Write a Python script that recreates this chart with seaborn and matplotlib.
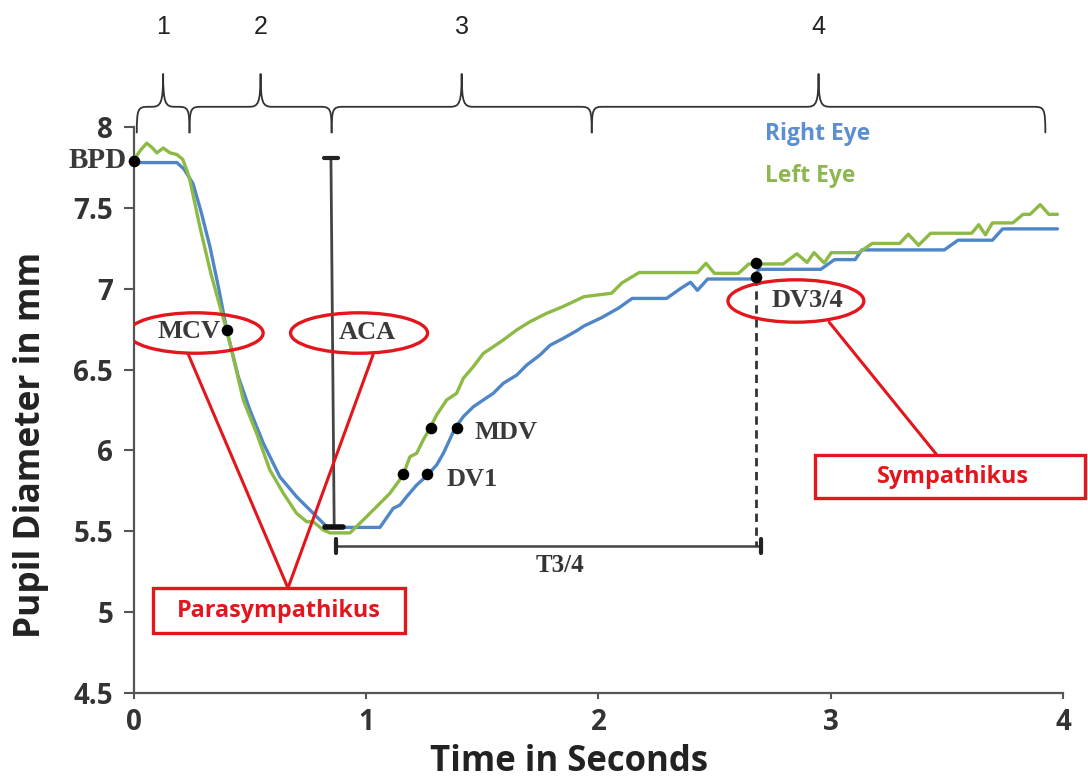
import matplotlib
matplotlib.use("Agg")
import matplotlib.pyplot as plt
from matplotlib.path import Path
from matplotlib.patches import PathPatch, Ellipse, Rectangle
import seaborn as sns
import pandas as pd

# ---------------- data ----------------
right_t = [0.000, 0.185, 0.215, 0.254, 0.290, 0.327, 0.365, 0.399, 0.449, 0.499,
           0.557, 0.628, 0.700, 0.772, 0.830, 0.900, 1.000, 1.059, 1.116, 1.145,
           1.174, 1.217, 1.260, 1.303, 1.332, 1.382, 1.418, 1.461, 1.504, 1.547,
           1.590, 1.648, 1.691, 1.748, 1.791, 1.848, 1.906, 1.938, 2.012, 2.086,
           2.145, 2.293, 2.352, 2.396, 2.426, 2.470, 2.662, 2.691, 2.957, 3.016,
           3.105, 3.134, 3.489, 3.548, 3.696, 3.740, 3.976]
right_mm = [7.78, 7.78, 7.74, 7.65, 7.47, 7.26, 7.00, 6.745, 6.456, 6.250,
            6.044, 5.837, 5.714, 5.611, 5.528, 5.524, 5.524, 5.524, 5.642, 5.662,
            5.714, 5.786, 5.842, 5.910, 5.982, 6.137, 6.209, 6.270, 6.312, 6.353,
            6.415, 6.466, 6.528, 6.590, 6.650, 6.693, 6.740, 6.770, 6.820, 6.880,
            6.940, 6.940, 7.000, 7.040, 6.990, 7.060, 7.060, 7.120, 7.120, 7.180,
            7.180, 7.240, 7.240, 7.300, 7.300, 7.370, 7.370]

left_t = [0.000, 0.030, 0.055, 0.080, 0.098, 0.126, 0.155, 0.184, 0.210, 0.228,
          0.241, 0.284, 0.330, 0.370, 0.400, 0.440, 0.471, 0.528, 0.585, 0.643,
          0.700, 0.744, 0.772, 0.815, 0.844, 0.930, 0.987, 1.059, 1.102, 1.159,
          1.188, 1.217, 1.245, 1.274, 1.303, 1.346, 1.389, 1.418, 1.461, 1.504,
          1.547, 1.590, 1.648, 1.705, 1.777, 1.848, 1.938, 2.056, 2.101, 2.175,
          2.426, 2.463, 2.499, 2.603, 2.647, 2.795, 2.854, 2.898, 2.928, 2.972,
          3.002, 3.120, 3.179, 3.297, 3.334, 3.378, 3.430, 3.607, 3.637, 3.666,
          3.696, 3.784, 3.828, 3.858, 3.902, 3.939, 3.976]
left_mm = [7.80, 7.86, 7.90, 7.87, 7.84, 7.87, 7.84, 7.83, 7.80, 7.73,
           7.67, 7.38, 7.10, 6.89, 6.74, 6.50, 6.31, 6.106, 5.879, 5.735,
           5.611, 5.559, 5.559, 5.508, 5.490, 5.490, 5.570, 5.673, 5.735, 5.848,
           5.961, 5.982, 6.064, 6.137, 6.219, 6.312, 6.353, 6.446, 6.518, 6.600,
           6.641, 6.683, 6.745, 6.796, 6.848, 6.890, 6.951, 6.972, 7.036, 7.100,
           7.100, 7.157, 7.095, 7.095, 7.153, 7.153, 7.216, 7.163, 7.223, 7.159,
           7.223, 7.223, 7.280, 7.280, 7.337, 7.269, 7.343, 7.343, 7.396, 7.333,
           7.407, 7.407, 7.460, 7.460, 7.520, 7.460, 7.460]

# marked points
point_names = ["BPD", "MCV", "DV1", "DV1", "MDV", "MDV", "DV3/4", "DV3/4"]
point_t = [0.000, 0.399, 1.157, 1.260, 1.278, 1.389, 2.680, 2.680]
point_mm = [7.79, 6.745, 5.854, 5.854, 6.137, 6.137, 7.157, 7.070]

# phases (braces above the plot)
phase_labels = ["1", "2", "3", "4"]
phase_start = [0.012, 0.239, 0.851, 1.971]
phase_end = [0.239, 0.851, 1.971, 3.924]

# timing markers
aca_t = [0.848, 0.862]
aca_mm = [7.81, 5.525]
t34_start, t34_end, t34_level = 0.870, 2.680, 5.41

x_ticks = [0, 1, 2, 3, 4]
y_ticks = [4.5, 5, 5.5, 6, 6.5, 7, 7.5, 8]
y_ticklabels = ["4.5", "5", "5.5", "6", "6.5", "7", "7.5", "8"]

BLUE = "#4f86c8"
GREEN = "#8cba45"
RED = "#e3161d"
DARK = "#333333"
SERIF = "Liberation Serif"
SANS = "Open Sans"

# ---------------- figure ----------------
sns.set_style("white")
plt.rcParams["font.family"] = [SANS, "DejaVu Sans"]

fig = plt.figure(figsize=(10.88, 7.78), dpi=100)
ax = fig.add_axes([0.12316, 0.10925, 0.85386, 0.72751])

right_df = pd.DataFrame({"t": right_t, "mm": right_mm})
left_df = pd.DataFrame({"t": left_t, "mm": left_mm})
sns.lineplot(data=right_df, x="t", y="mm", ax=ax, color=BLUE, linewidth=2.4,
             estimator=None, sort=False, zorder=3)
sns.lineplot(data=left_df, x="t", y="mm", ax=ax, color=GREEN, linewidth=2.4,
             estimator=None, sort=False, zorder=3)

ax.set_xlim(0, 4)
ax.set_ylim(4.5, 8)
ax.set_xticks(x_ticks)
ax.set_xticklabels([str(v) for v in x_ticks])
ax.set_yticks(y_ticks)
ax.set_yticklabels(y_ticklabels)
for lab in ax.get_xticklabels() + ax.get_yticklabels():
    lab.set_fontweight("bold")
    lab.set_color(DARK)
ax.tick_params(axis="y", direction="out", length=7, width=1.5, color="#555555",
               labelsize=20, pad=8, left=True)
ax.tick_params(axis="x", direction="out", length=4.5, width=1.5, color="#555555",
               labelsize=20, pad=6, bottom=True)
for side in ["top", "right"]:
    ax.spines[side].set_visible(False)
for side in ["left", "bottom"]:
    ax.spines[side].set_color("#555555")
    ax.spines[side].set_linewidth(1.6)

ax.set_xlabel("Time in Seconds", fontsize=25, fontweight="bold", color="#222222")
ax.set_ylabel("Pupil Diameter in mm", fontsize=25.5, fontweight="bold", color="#222222")
ax.xaxis.set_label_coords(0.468, -0.090)
ax.yaxis.set_label_coords(-0.092, 0.438)

# ---------------- ACA and T3/4 markers ----------------
ax.plot(aca_t, aca_mm, color="#444444", lw=2.0, zorder=4, solid_capstyle="butt")
ax.plot([aca_t[0] - 0.032, aca_t[0] + 0.032], [aca_mm[0], aca_mm[0]],
        color="#222222", lw=3.0, zorder=4, solid_capstyle="round")
ax.plot([aca_t[1] - 0.04, aca_t[1] + 0.04], [aca_mm[1], aca_mm[1]],
        color="#111111", lw=4.0, zorder=5, solid_capstyle="round")

ax.plot([t34_start, t34_end + 0.02], [t34_level, t34_level], color="#444444",
        lw=1.8, zorder=4)
for xx in [t34_start, t34_end + 0.02]:
    ax.plot([xx, xx], [t34_level - 0.045, t34_level + 0.045], color="#222222",
            lw=3.0, zorder=4, solid_capstyle="round")
ax.plot([point_t[-1], point_t[-1]], [point_mm[-1], t34_level], color="#333333",
        lw=2.0, ls=(0, (3, 2)), zorder=4)
ax.text((t34_start + t34_end) / 2 + 0.06, 5.29, "T3/4", family=SERIF,
        fontweight="bold", fontsize=18, color="#333333", ha="center", va="center")

# ---------------- dots ----------------
sns.scatterplot(x=point_t, y=point_mm, ax=ax, color="black", s=70, zorder=6,
                edgecolor="black", linewidth=0, clip_on=False, legend=False)

# ---------------- ellipses + labels ----------------
ellipses = [(0.265, 6.726, 0.582, 0.250), (0.969, 6.726, 0.590, 0.250),
            (2.850, 6.924, 0.585, 0.262)]
for (cx, cy, w, h) in ellipses:
    ax.add_patch(Ellipse((cx, cy), w, h, fill=False, edgecolor=RED, lw=2.4,
                         zorder=5))

lab_kw = dict(family=SERIF, fontweight="bold", color="#3a3a3a", zorder=7)
ax.text(0.235, 6.735, "MCV", ha="center", va="center", fontsize=19, **lab_kw)
ax.text(1.003, 6.730, "ACA", ha="center", va="center", fontsize=19, **lab_kw)
ax.text(2.900, 6.930, "DV3/4", ha="center", va="center", fontsize=19, **lab_kw)
ax.text(1.468, 6.110, "MDV", ha="left", va="center", fontsize=19, **lab_kw)
ax.text(1.347, 5.820, "DV1", ha="left", va="center", fontsize=19, **lab_kw)
ax.text(-0.03, 7.79, "BPD", ha="right", va="center", clip_on=False, fontsize=21,
        **lab_kw)

# red connector lines
ax.plot([0.232, 0.663, 1.029], [6.600, 5.149, 6.590], color=RED, lw=2.2,
        zorder=5, solid_joinstyle="miter")
ax.plot([2.994, 3.457], [6.792, 5.972], color=RED, lw=2.2, zorder=5)

# red boxes
ax.add_patch(Rectangle((0.082, 4.871), 1.085, 0.278, fill=True, facecolor="white",
                       edgecolor=RED, lw=2.4, zorder=6))
ax.text(0.624, 5.005, "Parasympathikus", color=RED, fontsize=16.8,
        fontweight="bold", ha="center", va="center", zorder=7)
ax.add_patch(Rectangle((2.932, 5.706), 1.162, 0.266, fill=True, facecolor="white",
                       edgecolor=RED, lw=2.4, zorder=6, clip_on=False))
ax.text(3.528, 5.835, "Sympathikus", color=RED, fontsize=16.8, fontweight="bold",
        ha="center", va="center", zorder=7, clip_on=False)

# legend-like coloured texts
ax.text(2.716, 7.955, "Right Eye", color="#5b8fd1", fontsize=16.5,
        fontweight="bold", ha="left", va="center")
ax.text(2.716, 7.697, "Left Eye", color="#8db851", fontsize=16.5,
        fontweight="bold", ha="left", va="center")

# ---------------- phase braces ----------------
y_tip, y_h, y_peak, y_num = 7.962, 8.125, 8.330, 8.618
rx = 0.05
for a, b, lab in zip(phase_start, phase_end, phase_labels):
    c = (a + b) / 2
    verts = [(a, y_tip), (a, y_h - 0.01), (a + 0.005, y_h), (a + rx, y_h),
             (c - rx, y_h),
             (c - 0.01, y_h), (c, y_h + 0.02), (c, y_peak),
             (c, y_h + 0.02), (c + 0.01, y_h), (c + rx, y_h),
             (b - rx, y_h),
             (b - 0.005, y_h), (b, y_h - 0.01), (b, y_tip)]
    codes = [Path.MOVETO, Path.CURVE4, Path.CURVE4, Path.CURVE4,
             Path.LINETO,
             Path.CURVE4, Path.CURVE4, Path.CURVE4,
             Path.CURVE4, Path.CURVE4, Path.CURVE4,
             Path.LINETO,
             Path.CURVE4, Path.CURVE4, Path.CURVE4]
    ax.add_patch(PathPatch(Path(verts, codes), fill=False, edgecolor="#333333",
                           lw=1.3, clip_on=False, zorder=4))
    ax.text(c, y_num, lab, family=["Liberation Sans", "DejaVu Sans"],
            fontsize=18, color="#222222", ha="center", va="center",
            clip_on=False)

fig.savefig("out.png", dpi=100, facecolor="white")
